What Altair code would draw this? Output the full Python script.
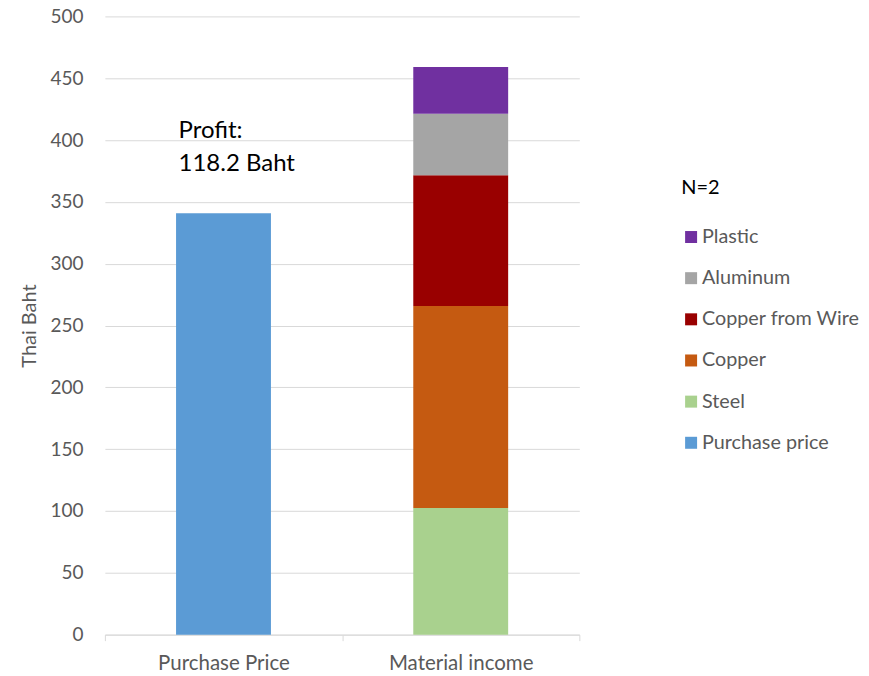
import altair as alt
import pandas as pd

categories = ["Purchase Price", "Material income"]
legend_series = ["Plastic", "Aluminum", "Copper from Wire", "Copper", "Steel", "Purchase price"]
legend_colors = ["#7030A0", "#A5A5A5", "#990000", "#C55A11", "#A9D18E", "#5B9BD5"]
purchase_price = 340.8
material_series = ["Steel", "Copper", "Copper from Wire", "Aluminum", "Plastic"]
material_values = [102.5, 163.3, 105.8, 49.6, 37.8]
y_ticks = [0, 50, 100, 150, 200, 250, 300, 350, 400, 450, 500]

rows = [{"category": categories[0], "series": "Purchase price", "value": purchase_price, "order": 0}]
for i, (s, v) in enumerate(zip(material_series, material_values)):
    rows.append({"category": categories[1], "series": s, "value": v, "order": i})
df = pd.DataFrame(rows)

profit = sum(material_values) - purchase_price
text_df = pd.DataFrame({"category": [categories[0]], "label": [f"Profit:\n{profit:.1f} Baht"]})

FONT = "Lato"
GRAY = "#595959"
LINE = "#D9D9D9"

x_enc = alt.X(
    "category:N",
    sort=categories,
    scale=alt.Scale(paddingInner=0, paddingOuter=0),
    axis=alt.Axis(
        title=None, labelAngle=0, tickBand="extent", domainColor=LINE, tickColor=LINE,
        tickSize=6, labelPadding=13, labelColor=GRAY, labelFontSize=20.5, labelFont=FONT,
        grid=False,
    ),
)

bars = alt.Chart(df).mark_bar(width=alt.RelativeBandSize(0.4)).encode(
    x=x_enc,
    y=alt.Y(
        "value:Q",
        stack="zero",
        scale=alt.Scale(domain=[0, 500]),
        axis=alt.Axis(
            title="Thai Baht", values=y_ticks, grid=True, gridColor=LINE, domain=False,
            ticks=False, labelPadding=22, labelColor=GRAY, labelFontSize=19, labelFont=FONT,
            titleFont=FONT, titleFontSize=20, titleColor=GRAY, titleFontWeight="normal",
            titlePadding=10,
        ),
    ),
    color=alt.Color(
        "series:N",
        scale=alt.Scale(domain=legend_series, range=legend_colors),
        legend=alt.Legend(
            title="N=2", orient="none", legendX=577, legendY=162, padding=0,
            titleFont=FONT, titleFontSize=20, titleColor="black", titleFontWeight="normal",
            titlePadding=29, labelFont=FONT, labelFontSize=19.8, labelColor=GRAY,
            labelLimit=400, symbolType="square", symbolSize=144, symbolStrokeWidth=0,
            rowPadding=20.2, labelOffset=1,
        ),
    ),
    order=alt.Order("order:Q", sort="ascending"),
)

text = alt.Chart(text_df).mark_text(
    align="left", baseline="top", dx=-45, fontSize=24, font=FONT, color="black",
    lineBreak="\n", lineHeight=33,
).encode(
    x=x_enc,
    y=alt.datum(417),
    text="label:N",
)

chart = alt.layer(bars, text).properties(
    width=475,
    height=619,
    autosize="none",
    padding={"left": 97, "top": 8, "right": 282, "bottom": 40},
    background="white",
).configure_view(stroke=None)

chart.save("out.html", embed_options={"renderer": "svg", "actions": False})
